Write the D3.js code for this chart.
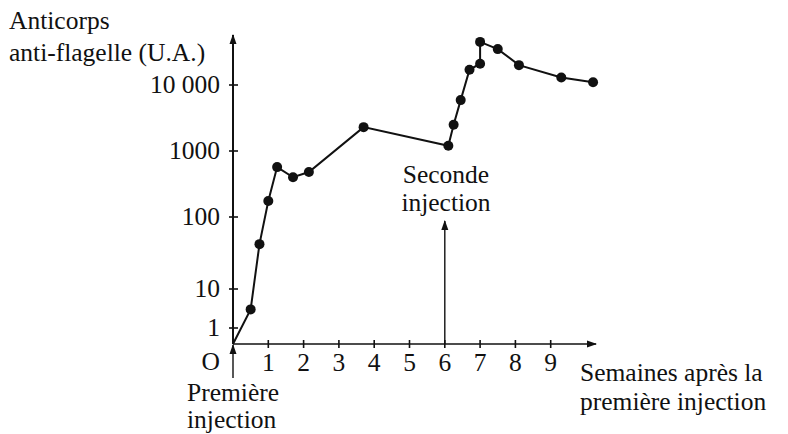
<!DOCTYPE html>
<html>
<head>
<meta charset="utf-8">
<script src="https://cdn.jsdelivr.net/npm/d3@7"></script>
<style>
  body { margin: 0; background: #fff; }
  svg text { font-family: "Liberation Serif", "DejaVu Serif", serif; fill: #111; }
</style>
</head>
<body>
<svg id="chart" width="788" height="434"></svg>
<script>
// semaines après la première injection
const weeks = [0, 0.5, 0.75, 1, 1.25, 1.7, 2.15, 3.7, 6.1, 6.25, 6.45, 6.7, 7, 7, 7.5, 8.1, 9.3, 10.2];
// anticorps anti-flagelle (U.A.), 0 = origine
const antibodies = [0, 3, 42, 175, 570, 400, 480, 2300, 1200, 2500, 5900, 17000, 21000, 45000, 35000, 20000, 13000, 11000];
const xTicks = [1, 2, 3, 4, 5, 6, 7, 8, 9];
const yTicks = [1, 10, 100, 1000, 10000];
const yTickLabels = ["1", "10", "100", "1000", "10 000"];

const svg = d3.select("#chart");
const ink = "#111";
const fontSize = 25.5;

const origin = {x: 233, y: 344};

const x = d3.scaleLinear().domain([0, 1]).range([origin.x, origin.x + 35.3]);
// axe schématique : décades inégales en bas
const yLog = d3.scaleLinear()
  .domain([0, 1, 2, 3, 4])
  .range([328, 289, 217, 151, 85]);
const y = (v) => v <= 0 ? origin.y : yLog(Math.log10(v));

// arrowheads
const defs = svg.append("defs");
defs.append("marker")
  .attr("id", "arrow")
  .attr("viewBox", "0 0 10 10")
  .attr("refX", 9).attr("refY", 5)
  .attr("markerWidth", 10).attr("markerHeight", 10)
  .attr("markerUnits", "userSpaceOnUse")
  .attr("orient", "auto")
  .append("path")
  .attr("d", "M0,1.5 L10,5 L0,8.5 Z")
  .attr("fill", ink);

// axes
svg.append("line")
  .attr("x1", origin.x).attr("y1", origin.y)
  .attr("x2", origin.x).attr("y2", 35)
  .attr("stroke", ink).attr("stroke-width", 2)
  .attr("marker-end", "url(#arrow)");

svg.append("line")
  .attr("x1", origin.x).attr("y1", origin.y)
  .attr("x2", 596).attr("y2", origin.y)
  .attr("stroke", ink).attr("stroke-width", 1.6)
  .attr("marker-end", "url(#arrow)");

// y ticks
const yTickG = svg.selectAll(".ytick").data(yTicks).enter().append("g")
  .attr("class", "ytick")
  .attr("transform", (d) => "translate(" + origin.x + "," + y(d) + ")");
yTickG.append("line")
  .attr("x1", -4).attr("x2", 5)
  .attr("stroke", ink).attr("stroke-width", 1.6);
yTickG.append("text")
  .attr("x", -13).attr("y", 8)
  .attr("text-anchor", "end")
  .attr("font-size", fontSize)
  .text((d, i) => yTickLabels[i]);

// x ticks
const xTickG = svg.selectAll(".xtick").data(xTicks).enter().append("g")
  .attr("class", "xtick")
  .attr("transform", (d) => "translate(" + x(d) + "," + origin.y + ")");
xTickG.append("line")
  .attr("y1", -4).attr("y2", 4)
  .attr("stroke", ink).attr("stroke-width", 1.6);
xTickG.append("text")
  .attr("y", 27)
  .attr("text-anchor", "middle")
  .attr("font-size", fontSize)
  .text((d) => d);

// origin label
svg.append("text")
  .attr("x", origin.x - 13).attr("y", origin.y + 26)
  .attr("text-anchor", "end")
  .attr("font-size", fontSize)
  .text("O");

// axis titles
const yTitle = svg.append("text").attr("font-size", fontSize);
yTitle.append("tspan").attr("x", 9).attr("y", 29).text("Anticorps");
yTitle.append("tspan").attr("x", 9).attr("y", 61).text("anti-flagelle (U.A.)");

const xTitle = svg.append("text").attr("font-size", fontSize);
xTitle.append("tspan").attr("x", 580).attr("y", 381).text("Semaines après la");
xTitle.append("tspan").attr("x", 580).attr("y", 410).text("première injection");

// injection arrows
svg.append("line")
  .attr("x1", origin.x).attr("y1", 378)
  .attr("x2", origin.x).attr("y2", origin.y + 1)
  .attr("stroke", ink).attr("stroke-width", 1.4)
  .attr("marker-end", "url(#arrow)");

svg.append("text").attr("font-size", fontSize)
  .attr("x", 187).attr("y", 401).text("Première");
svg.append("text").attr("font-size", fontSize)
  .attr("x", 187).attr("y", 428).text("injection");

svg.append("line")
  .attr("x1", x(6)).attr("y1", origin.y)
  .attr("x2", x(6)).attr("y2", 221)
  .attr("stroke", ink).attr("stroke-width", 1.4)
  .attr("marker-end", "url(#arrow)");

const secondLabel = svg.append("text").attr("font-size", fontSize).attr("text-anchor", "middle");
secondLabel.append("tspan").attr("x", 446).attr("y", 183).text("Seconde");
secondLabel.append("tspan").attr("x", 446).attr("y", 211).text("injection");

// data
const points = weeks.map((w, i) => ({w: w, v: antibodies[i]}));

const line = d3.line()
  .x((d) => x(d.w))
  .y((d) => y(d.v));

svg.append("path")
  .datum(points)
  .attr("d", line)
  .attr("fill", "none")
  .attr("stroke", ink)
  .attr("stroke-width", 2);

svg.selectAll(".dot").data(points.filter((d) => d.v > 0)).enter()
  .append("circle")
  .attr("class", "dot")
  .attr("cx", (d) => x(d.w))
  .attr("cy", (d) => y(d.v))
  .attr("r", 5)
  .attr("fill", ink);
</script>
</body>
</html>
